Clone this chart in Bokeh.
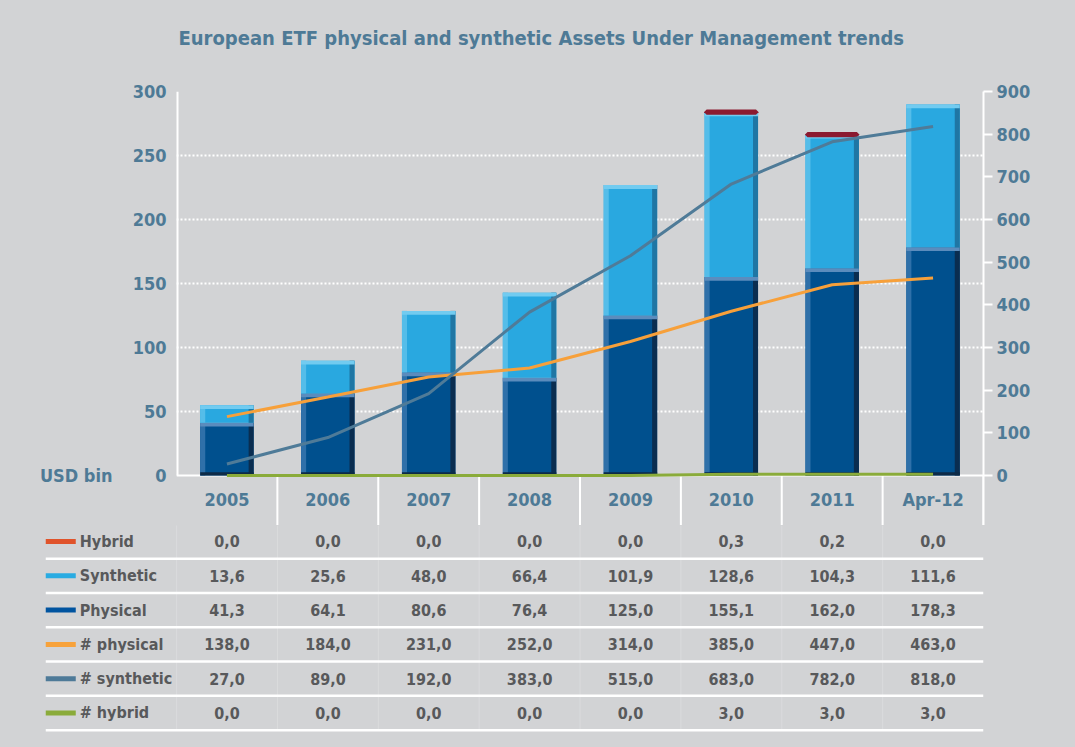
import numpy as np
from bokeh.plotting import figure
from bokeh.models import Range1d, LinearAxis, FixedTicker, ColumnDataSource, Span, Title
from bokeh.layouts import column
from bokeh.transform import dodge
from bokeh.core.properties import value
from bokeh.embed import file_html
from bokeh.resources import INLINE

# ---------------- data ----------------
categories = ["2005", "2006", "2007", "2008", "2009", "2010", "2011", "Apr-12"]
hybrid = [0.0, 0.0, 0.0, 0.0, 0.0, 0.3, 0.2, 0.0]
synthetic = [13.6, 25.6, 48.0, 66.4, 101.9, 128.6, 104.3, 111.6]
physical = [41.3, 64.1, 80.6, 76.4, 125.0, 155.1, 162.0, 178.3]
n_physical = [138.0, 184.0, 231.0, 252.0, 314.0, 385.0, 447.0, 463.0]
n_synthetic = [27.0, 89.0, 192.0, 383.0, 515.0, 683.0, 782.0, 818.0]
n_hybrid = [0.0, 0.0, 0.0, 0.0, 0.0, 3.0, 3.0, 3.0]
left_ticks = [0, 50, 100, 150, 200, 250, 300]
right_ticks = [0, 100, 200, 300, 400, 500, 600, 700, 800, 900]
row_names = ["Hybrid", "Synthetic", "Physical", "# physical", "# synthetic", "# hybrid"]
row_values = [hybrid, synthetic, physical, n_physical, n_synthetic, n_hybrid]

# ---------------- styles ----------------
BG = "#d2d3d5"
AX = "#4e7a96"
TXT = "#58595b"
FONT = "DejaVu Sans Condensed"
C_PHYS, C_PHYS_L, C_PHYS_D, C_PHYS_T = "#00508e", "#2f70a9", "#0a2d50", "#5b8cbd"
C_SYN, C_SYN_L, C_SYN_D, C_SYN_T = "#29a8e0", "#55bde9", "#1f76a4", "#72cbf0"
C_HYB = "#8b1a30"
SW = ["#e0532b", "#29abe2", "#0054a0", "#f7a23b", "#4e7a98", "#8aab3a"]
C_NPHYS, C_NSYN, C_NHYB = "#f7a03a", "#4f7b98", "#8aab3a"

n = len(categories)
xs = np.arange(n) + 0.5
phys_top = np.array(physical)
syn_top = phys_top + np.array(synthetic)
hyb_top = syn_top + np.array(hybrid)

src = ColumnDataSource(dict(
    x=xs, zero=np.zeros(n), phys=phys_top, phys_b=phys_top - 3.0,
    syn=syn_top, syn_b=syn_top - 3.0, base=np.full(n, 2.5)))
mask = np.array(hybrid) > 0
hsrc = ColumnDataSource(dict(x=xs[mask], syn=syn_top[mask], hyb=hyb_top[mask]))

Y0 = -39.06   # header strip below the baseline (category labels)
YMAX = left_ticks[-1]

# ---------------- chart ----------------
p = figure(width=1075, height=525, x_range=Range1d(0, n), y_range=Range1d(Y0, YMAX),
           output_backend="svg", toolbar_location=None, x_axis_location=None,
           min_border_left=176, min_border_right=92, min_border_top=91, min_border_bottom=0,
           background_fill_color=BG, border_fill_color=BG, outline_line_color=None,
           frame_align=False, styles={"background-color": BG})
p.title.visible = False

# invisible spacer between the plot area and the title (one hidden tick, no line, no label)
spacer = LinearAxis(ticker=FixedTicker(ticks=[n / 2]), major_label_overrides={n / 2: ""})
spacer.axis_line_color = None
spacer.major_tick_line_color = None
spacer.minor_tick_line_color = None
spacer.major_tick_in = 0
spacer.major_tick_out = 37
spacer.major_label_standoff = 0
spacer.major_label_text_font_size = "0px"
spacer.major_label_text_color = None
p.add_layout(spacer, "above")

title = Title(text="European ETF physical and synthetic Assets Under Management trends",
              align="left", offset=2, standoff=10, text_font=FONT, text_font_size="20px",
              text_font_style="bold", text_color=AX)
p.add_layout(title, "above")


def style_axis(ax, standoff):
    ax.major_label_standoff = standoff
    ax.major_label_text_font = FONT
    ax.major_label_text_font_size = "18px"
    ax.major_label_text_font_style = "bold"
    ax.major_label_text_color = AX
    ax.minor_tick_line_color = None


ya = p.yaxis[0]
ya.ticker = FixedTicker(ticks=left_ticks)
ya.axis_line_color = None
ya.major_tick_line_color = None
style_axis(ya, 4)

ua = LinearAxis(ticker=FixedTicker(ticks=[0]), major_label_overrides={0: "USD bin"})
ua.axis_line_color = None
ua.major_tick_line_color = None
style_axis(ua, 11)
p.add_layout(ua, "left")

p.extra_y_ranges = {"cnt": Range1d(Y0 * 3, YMAX * 3)}
ra = LinearAxis(y_range_name="cnt", ticker=FixedTicker(ticks=right_ticks))
ra.axis_line_color = "white"
ra.axis_line_width = 2
ra.major_tick_line_color = "white"
ra.major_tick_line_width = 2
ra.major_tick_in = 0
ra.major_tick_out = 9
style_axis(ra, 4)
p.add_layout(ra, "right")

p.xgrid.visible = False
p.ygrid.ticker = FixedTicker(ticks=left_ticks[1:])
p.ygrid.grid_line_color = "white"
p.ygrid.grid_line_width = 2
p.ygrid.grid_line_dash = "2 2"

# white frame lines: left edge of the plot area, baseline, header separators
p.segment(x0=[0], y0=[0], x1=[0], y1=[YMAX], line_color="white", line_width=4)
p.add_layout(Span(location=0, dimension="width", line_color="white", line_width=2, level="underlay"))
sep = np.arange(1, n + 1)
p.segment(x0=sep, y0=Y0, x1=sep, y1=0, line_color="white", line_width=2)

# category labels
p.text(x=xs, y=-18.75, text=categories, text_align="center", text_baseline="middle",
       text_font=value(FONT), text_font_size="18px", text_font_style="bold", text_color=AX)

BW = 0.53
# physical
p.vbar(x="x", bottom="zero", top="phys", width=BW, source=src, fill_color=C_PHYS, line_color=None)
p.vbar(x=dodge("x", -0.24), bottom="zero", top="phys", width=0.05, source=src, fill_color=C_PHYS_L, line_color=None)
p.vbar(x=dodge("x", 0.24), bottom="zero", top="phys", width=0.05, source=src, fill_color=C_PHYS_D, line_color=None)
p.vbar(x="x", bottom="phys_b", top="phys", width=BW, source=src, fill_color=C_PHYS_T, line_color=None)
p.vbar(x="x", bottom="zero", top="base", width=BW, source=src, fill_color="#0d2a47", line_color=None)
# synthetic
p.vbar(x="x", bottom="phys", top="syn", width=BW, source=src, fill_color=C_SYN, line_color=None)
p.vbar(x=dodge("x", -0.24), bottom="phys", top="syn", width=0.05, source=src, fill_color=C_SYN_L, line_color=None)
p.vbar(x=dodge("x", 0.24), bottom="phys", top="syn", width=0.05, source=src, fill_color=C_SYN_D, line_color=None)
p.vbar(x="x", bottom="syn_b", top="syn", width=BW, source=src, fill_color=C_SYN_T, line_color=None)
# hybrid
p.vbar(x="x", bottom="syn", top="hyb", width=BW - 0.04, source=hsrc, fill_color=C_HYB,
       line_color=C_HYB, line_width=5)

# counts (right axis)
p.line(xs, n_hybrid, y_range_name="cnt", line_color=C_NHYB, line_width=3)
p.line(xs, n_physical, y_range_name="cnt", line_color=C_NPHYS, line_width=3)
p.line(xs, n_synthetic, y_range_name="cnt", line_color=C_NSYN, line_width=3)

# ---------------- table ----------------
X0 = -1.3
t = figure(width=1075, height=222, x_range=Range1d(X0, n), y_range=Range1d(6.006, -0.466),
           output_backend="svg", toolbar_location=None, x_axis_location=None, y_axis_location=None,
           min_border_left=45, min_border_right=92, min_border_top=0, min_border_bottom=0,
           background_fill_color=BG, border_fill_color=BG, outline_line_color=None,
           frame_align=False, styles={"background-color": BG})
t.grid.visible = False

nr = len(row_names)
inner = np.arange(0, n)
t.segment(x0=inner, y0=-0.5, x1=inner, y1=nr - 0.5, line_color="#dadbdd", line_width=1)
ry = np.arange(nr) + 0.5
t.segment(x0=X0, y0=ry, x1=n, y1=ry, line_color="white", line_width=2.5)

rows = np.arange(nr)
t.segment(x0=X0, y0=rows, x1=-1.0, y1=rows, line_color=SW, line_width=5)
t.text(x=-0.96, y=rows, text=row_names, text_align="left", text_baseline="middle",
       text_font=value(FONT), text_font_size="16px", text_font_style="bold", text_color=TXT)

cx, cy, ctext = [], [], []
for r, vals in enumerate(row_values):
    for i, v in enumerate(vals):
        cx.append(xs[i])
        cy.append(r)
        ctext.append(f"{v:.1f}".replace(".", ","))
t.text(x=cx, y=cy, text=ctext, text_align="center", text_baseline="middle",
       text_font=value(FONT), text_font_size="16px", text_font_style="bold", text_color=TXT)

layout = column(p, t, spacing=0, styles={"background-color": BG})
open("out.html", "w").write(file_html(layout, INLINE))
